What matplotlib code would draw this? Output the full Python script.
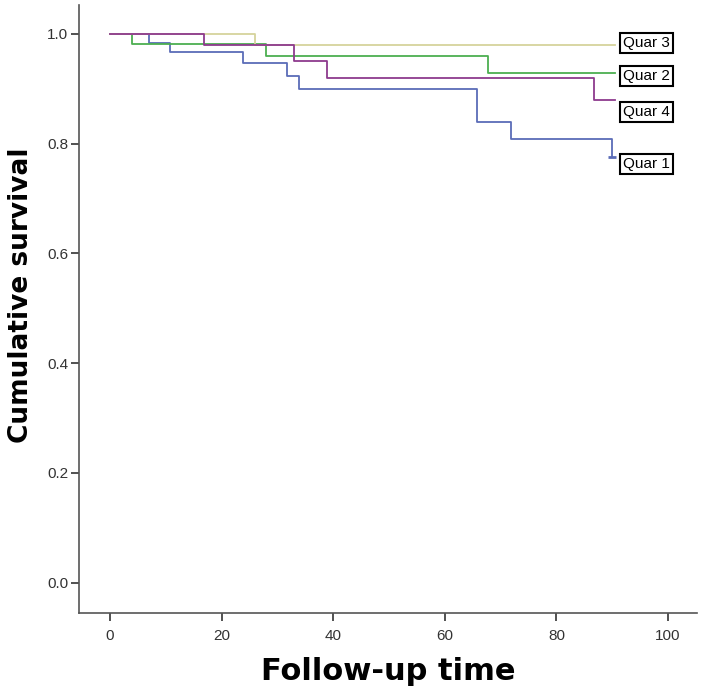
import matplotlib
matplotlib.use("Agg")
import matplotlib.pyplot as plt

# Kaplan-Meier step data (time, cumulative survival)
q1_time = [0, 7, 10.8, 23.8, 31.8, 33.9, 65.8, 71.9, 89.9]
q1_surv = [1.0, 0.983, 0.967, 0.947, 0.924, 0.900, 0.839, 0.809, 0.775]

q2_time = [0, 4, 28, 67.8, 90.5]
q2_surv = [1.0, 0.982, 0.960, 0.929, 0.929]

q3_time = [0, 26, 90.5]
q3_surv = [1.0, 0.979, 0.979]

q4_time = [0, 16.8, 32.9, 38.8, 86.7, 90.5]
q4_surv = [1.0, 0.980, 0.951, 0.919, 0.880, 0.880]

labels = ["Quar 1", "Quar 2", "Quar 3", "Quar 4"]
label_y = [0.763, 0.923, 0.983, 0.857]
colors = ["#5b6cb8", "#4caf50", "#d6d39c", "#8e3a8e"]

plt.rcParams["font.family"] = ["Liberation Sans", "DejaVu Sans"]

fig = plt.figure(figsize=(7.03, 7.0), dpi=100)
ax = fig.add_axes([0.1128, 0.1247, 0.8787, 0.8683])

series = [(q1_time, q1_surv), (q2_time, q2_surv), (q3_time, q3_surv), (q4_time, q4_surv)]
for (t, s), c in zip(series, colors):
    ax.step(t, s, where="post", color=c, lw=1.3)

# censor mark at end of Quar 1
ax.plot([q1_time[-1]], [q1_surv[-1]], marker="_", ms=6, mew=2, color=colors[0])

for lab, y in zip(labels, label_y):
    ax.text(91.9, y, lab, fontsize=11, va="center", ha="left",
            bbox=dict(boxstyle="square,pad=0.2", fc="white", ec="black", lw=1.5))

ax.set_xlim(-5.5, 105.2)
ax.set_ylim(-0.055, 1.053)
ax.set_xticks([0, 20, 40, 60, 80, 100])
ax.set_yticks([0.0, 0.2, 0.4, 0.6, 0.8, 1.0])
ax.set_yticklabels(["0.0", "0.2", "0.4", "0.6", "0.8", "1.0"])
ax.tick_params(axis="both", labelsize=11, colors="#333333", length=6, width=1.2)
ax.tick_params(axis="x", pad=6)
ax.tick_params(axis="y", pad=2)

for side in ["top", "right"]:
    ax.spines[side].set_visible(False)
for side in ["left", "bottom"]:
    ax.spines[side].set_color("#555555")
    ax.spines[side].set_linewidth(1.2)

ax.set_xlabel("Follow-up time", fontsize=22, fontweight="bold",
              family="DejaVu Sans", va="center")
ax.set_ylabel("Cumulative survival", fontsize=19, fontweight="bold",
              family="DejaVu Sans", va="center")
ax.xaxis.set_label_coords(0.5, -0.097)
ax.yaxis.set_label_coords(-0.095, 0.523)

fig.savefig("out.png", dpi=100)
